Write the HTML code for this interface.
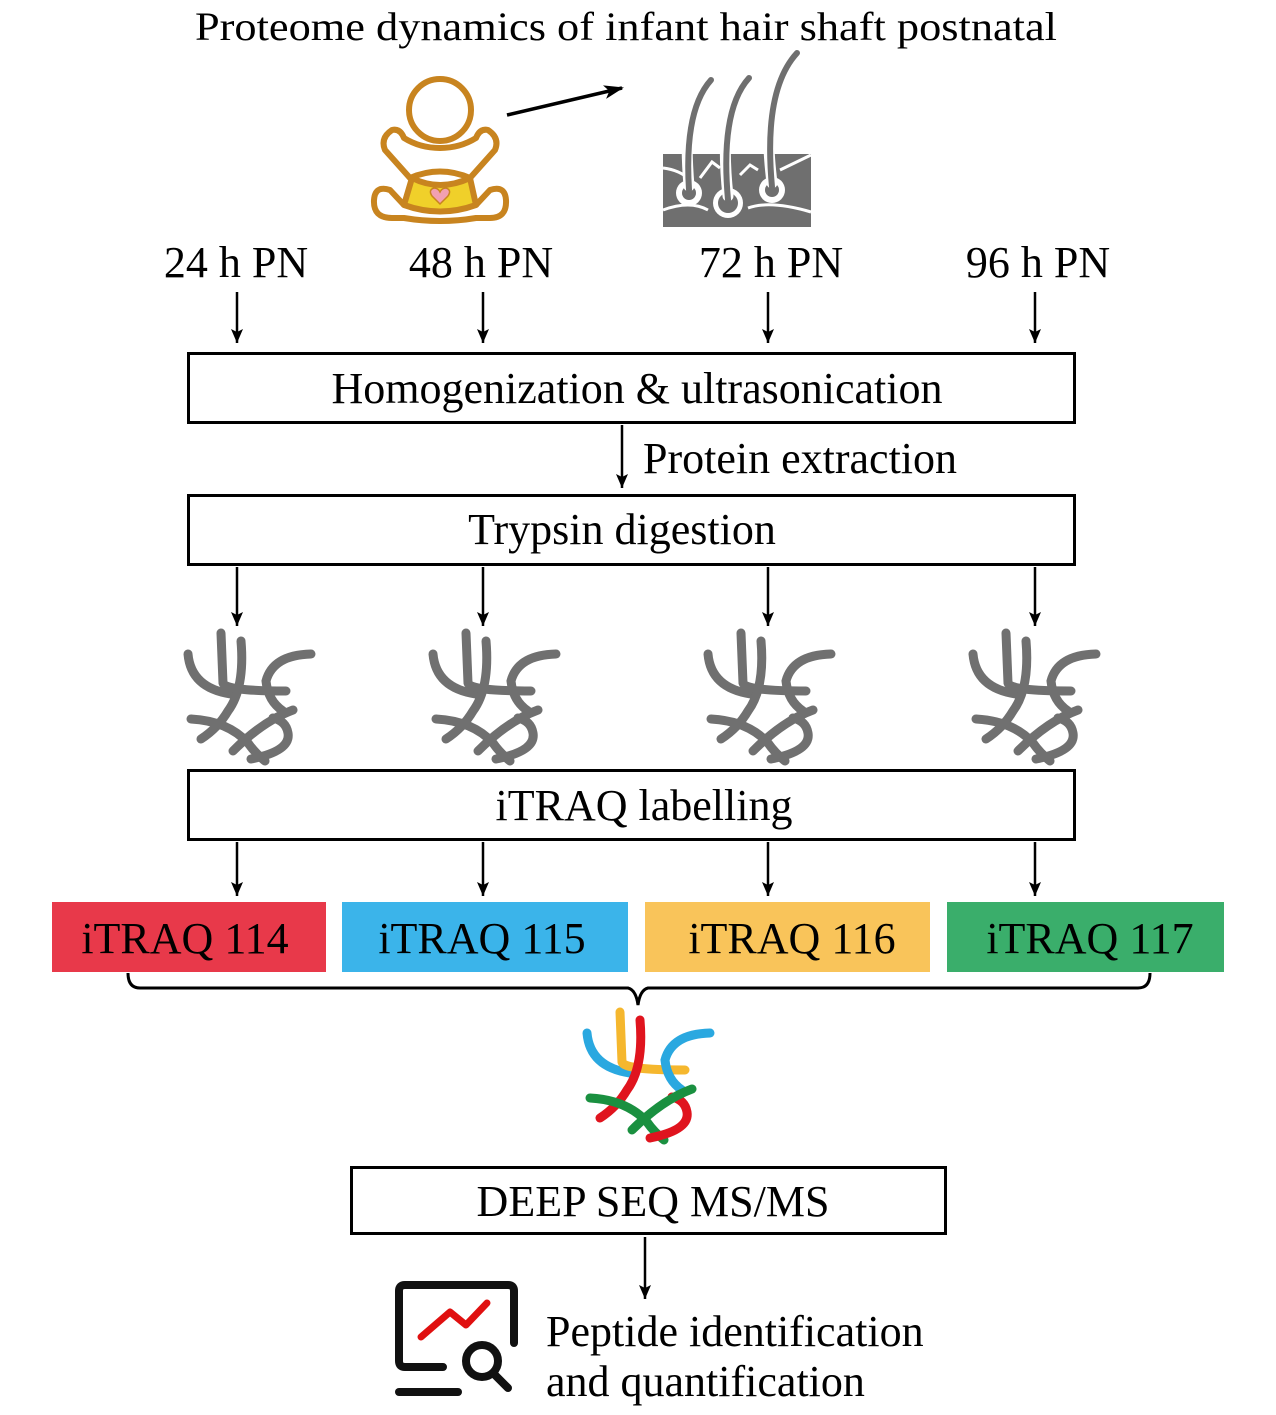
<!DOCTYPE html>
<html><head><meta charset="utf-8"><style>
html,body{margin:0;padding:0;background:#fff;}
svg{display:block;}
text{font-family:"Liberation Serif",serif;fill:#000;}
</style></head><body>
<svg width="1276" height="1415" viewBox="0 0 1276 1415" xmlns="http://www.w3.org/2000/svg">
<defs>
<marker id="ah" markerWidth="12" markerHeight="14" refX="14" refY="6" orient="auto" markerUnits="userSpaceOnUse">
<path d="M0,0 L14,6 L0,12 L3,6 Z" fill="#000"/></marker>
<marker id="ah2" markerWidth="20" markerHeight="14" refX="18" refY="7" orient="auto" markerUnits="userSpaceOnUse">
<path d="M0,0 L20,7 L0,14 L5,7 Z" fill="#000"/></marker>
</defs>

<text x="626" y="40" font-size="40" text-anchor="middle" textLength="862" lengthAdjust="spacingAndGlyphs">Proteome dynamics of infant hair shaft postnatal</text>

<!-- baby -->
<g fill="none" stroke="#c8841f" stroke-width="6" stroke-linejoin="round">
<path d="M412,178 Q440,192 470,178 L476,205 Q440,218 404,205 Z" fill="#f0d02a"/>
<circle cx="440" cy="110" r="31" fill="#fff"/>
<path d="M392,130 Q380,138 385,150 L410,178 Q440,165 470,178 L495,150 Q500,138 488,130 Q480,128 476,138 Q460,148 440,148 Q420,148 404,138 Q400,128 392,130 Z" fill="#fff"/>
<path d="M404,205 L390,190 Q375,185 374,200 Q373,218 392,218 L404,218 Q440,224 476,218 L490,218 Q507,218 506,200 Q505,185 490,190 L476,205" fill="none"/>
</g>
<path d="M440,204 L432,196 Q428,190 434,188 Q438,188 440,192 Q442,188 446,188 Q452,190 448,196 Z" fill="#f2a0b0" stroke="#c8841f" stroke-width="1.5"/>
<line x1="507" y1="115" x2="622" y2="88" stroke="#000" stroke-width="3.5" marker-end="url(#ah2)"/>

<!-- hair -->
<rect x="663" y="154" width="148" height="73" fill="#6f6f6f"/>
<path d="M663,168 Q680,170 690,180 M700,178 L712,162 L720,168 M740,175 L750,165 L758,170 M780,170 L811,155 M663,210 Q690,200 708,210 M748,208 Q770,200 811,212" stroke="#fff" stroke-width="3" fill="none"/>
<circle cx="689" cy="193" r="13" fill="#fff"/><circle cx="689" cy="193" r="7" fill="#6f6f6f"/>
<circle cx="728" cy="203" r="15" fill="#fff"/><circle cx="728" cy="203" r="10" fill="#6f6f6f"/>
<circle cx="772" cy="190" r="13" fill="#fff"/><circle cx="772" cy="190" r="7" fill="#6f6f6f"/>
<g fill="none" stroke="#fff" stroke-width="11" stroke-linecap="round">
<path d="M689,186 Q686,150 688,130"/>
<path d="M728,196 Q724,160 726,130"/>
<path d="M772,183 Q768,150 769,130"/>
</g>
<g fill="none" stroke="#6f6f6f" stroke-width="6" stroke-linecap="round">
<path d="M689,190 Q684,110 711,80"/>
<path d="M728,200 Q720,110 749,78"/>
<path d="M772,187 Q763,90 797,53"/>
</g>

<g font-size="44" text-anchor="middle">
<text x="236" y="277">24 h PN</text>
<text x="481" y="277">48 h PN</text>
<text x="771" y="277">72 h PN</text>
<text x="1038" y="277">96 h PN</text>
</g>
<g stroke="#000" stroke-width="2.5" marker-end="url(#ah)">
<line x1="237" y1="292" x2="237" y2="343"/><line x1="483" y1="292" x2="483" y2="343"/>
<line x1="768" y1="292" x2="768" y2="343"/><line x1="1035" y1="292" x2="1035" y2="343"/>
<line x1="622" y1="425" x2="622" y2="488"/>
<line x1="237" y1="567" x2="237" y2="626"/><line x1="483" y1="567" x2="483" y2="626"/>
<line x1="768" y1="567" x2="768" y2="626"/><line x1="1035" y1="567" x2="1035" y2="626"/>
<line x1="237" y1="842" x2="237" y2="896"/><line x1="483" y1="842" x2="483" y2="896"/>
<line x1="768" y1="842" x2="768" y2="896"/><line x1="1035" y1="842" x2="1035" y2="896"/>
<line x1="645" y1="1237" x2="645" y2="1299"/>
</g>

<g fill="#fff" stroke="#000" stroke-width="3">
<rect x="188.5" y="353.5" width="886" height="69"/>
<rect x="188.5" y="495.5" width="886" height="69"/>
<rect x="188.5" y="770.5" width="886" height="69"/>
<rect x="351.5" y="1167.5" width="594" height="66"/>
</g>
<g font-size="44" text-anchor="middle">
<text x="637" y="403">Homogenization &amp; ultrasonication</text>
<text x="622" y="544">Trypsin digestion</text>
<text x="644" y="820">iTRAQ labelling</text>
<text x="653" y="1216">DEEP SEQ MS/MS</text>
</g>
<text x="643" y="473" font-size="44">Protein extraction</text>

<g fill="none" stroke-width="9" stroke-linecap="round" stroke="#707070">
<g transform="translate(183,633)">
<path d="M5,21 Q8,55 48,61"/><path d="M38,0 L40,50 Q42,58 103,58"/><path d="M58,8 Q62,55 45,78 Q35,95 18,106"/><path d="M128,21 Q90,22 83,48 Q85,68 100,78"/><path d="M8,86 Q45,88 65,110 Q72,120 82,128"/><path d="M68,126 Q108,118 105,100 Q103,88 90,85"/><path d="M110,77 Q80,88 50,118"/>
</g>
<g transform="translate(428,633)">
<path d="M5,21 Q8,55 48,61"/><path d="M38,0 L40,50 Q42,58 103,58"/><path d="M58,8 Q62,55 45,78 Q35,95 18,106"/><path d="M128,21 Q90,22 83,48 Q85,68 100,78"/><path d="M8,86 Q45,88 65,110 Q72,120 82,128"/><path d="M68,126 Q108,118 105,100 Q103,88 90,85"/><path d="M110,77 Q80,88 50,118"/>
</g>
<g transform="translate(703,633)">
<path d="M5,21 Q8,55 48,61"/><path d="M38,0 L40,50 Q42,58 103,58"/><path d="M58,8 Q62,55 45,78 Q35,95 18,106"/><path d="M128,21 Q90,22 83,48 Q85,68 100,78"/><path d="M8,86 Q45,88 65,110 Q72,120 82,128"/><path d="M68,126 Q108,118 105,100 Q103,88 90,85"/><path d="M110,77 Q80,88 50,118"/>
</g>
<g transform="translate(968,633)">
<path d="M5,21 Q8,55 48,61"/><path d="M38,0 L40,50 Q42,58 103,58"/><path d="M58,8 Q62,55 45,78 Q35,95 18,106"/><path d="M128,21 Q90,22 83,48 Q85,68 100,78"/><path d="M8,86 Q45,88 65,110 Q72,120 82,128"/><path d="M68,126 Q108,118 105,100 Q103,88 90,85"/><path d="M110,77 Q80,88 50,118"/>
</g>
</g>

<rect x="52" y="902" width="274" height="70" fill="#e8394a"/>
<rect x="342" y="902" width="286" height="70" fill="#3bb4ea"/>
<rect x="645" y="902" width="285" height="70" fill="#f9c45a"/>
<rect x="947" y="902" width="277" height="70" fill="#3aae6b"/>
<g font-size="44" text-anchor="middle">
<text x="185" y="953">iTRAQ 114</text>
<text x="482" y="953">iTRAQ 115</text>
<text x="792" y="953">iTRAQ 116</text>
<text x="1090" y="953">iTRAQ 117</text>
</g>
<path d="M128,973 Q128,988 140,988 L628,988 Q636,990 638,1005 Q640,990 648,988 L1138,988 Q1150,988 1150,973" fill="none" stroke="#000" stroke-width="3"/>

<g fill="none" stroke-width="9" stroke-linecap="round" transform="translate(582,1012)">
<path stroke="#2aa8e0" d="M5,21 Q8,55 48,61"/>
<path stroke="#f5b72e" d="M38,0 L40,50 Q42,58 103,58"/>
<path stroke="#e0141e" d="M58,8 Q62,55 45,78 Q35,95 18,106"/>
<path stroke="#2aa8e0" d="M128,21 Q90,22 83,48 Q85,68 100,78"/>
<path stroke="#1a9040" d="M8,86 Q45,88 65,110 Q72,120 82,128"/>
<path stroke="#e0141e" d="M68,126 Q108,118 105,100 Q103,88 90,85"/>
<path stroke="#1a9040" d="M110,77 Q80,88 50,118"/>
</g>

<!-- monitor icon -->
<g fill="none" stroke="#111" stroke-width="8" stroke-linecap="round">
<path d="M443,1367 L405,1367 Q399,1367 399,1361 L399,1291 Q399,1285 405,1285 L508,1285 Q514,1285 514,1291 L514,1343"/>
<line x1="399" y1="1392" x2="458" y2="1392"/>
<circle cx="482" cy="1361" r="16"/>
<line x1="494" y1="1374" x2="508" y2="1388"/>
</g>
<polyline points="421,1337 450,1312 466,1325 487,1303" fill="none" stroke="#e01010" stroke-width="7" stroke-linecap="round" stroke-linejoin="round"/>
<text x="546" y="1346" font-size="44">Peptide identification</text>
<text x="546" y="1396" font-size="44">and quantification</text>
</svg>
</body></html>
